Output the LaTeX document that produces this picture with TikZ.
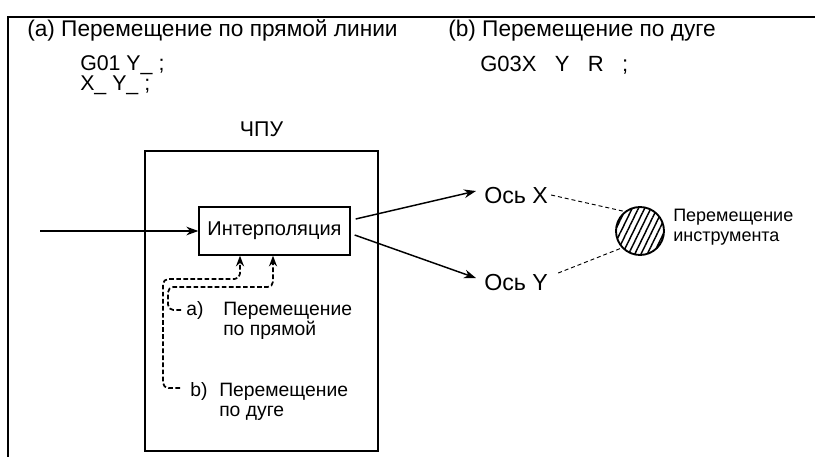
\documentclass[tikz,border=0pt]{standalone}
\usepackage{fontspec}
\setmainfont{Liberation Sans}
\usetikzlibrary{arrows.meta, positioning, patterns.meta}
\tikzset{
  txt/.style   = {inner sep=0pt, anchor=base west, align=left,
                  font=\fontsize{#1}{15}\selectfont},
  txt/.default = 14.5,
  frame/.style = {line width=1.5pt},
  cncbox/.style= {rectangle, draw, line width=0.8pt, inner sep=0pt},
  blk/.style   = {rectangle, draw, line width=1pt, inner sep=0pt,
                  font=\fontsize{15}{18}\selectfont},
  tool/.style  = {circle, draw, line width=1.4pt, inner sep=0pt, minimum size=36pt,
                  pattern={Lines[angle=64, distance=4.2pt, line width=1.1pt]}},
  arr/.style   = {-{Stealth[length=9pt, width=6.5pt]}, line width=1.1pt},
  darr/.style  = {-{Stealth[length=8pt, width=6pt]}, line width=1.3pt,
                  dash pattern=on 3.5pt off 1.8pt, rounded corners=4pt},
  link/.style  = {line width=0.7pt, dash pattern=on 3pt off 2.2pt},
}

\begin{document}
\begin{tikzpicture}[x=0.75pt, y=-0.75pt]
\useasboundingbox (0,0) rectangle (815,457);

% ---- Frame ------------------------------------------------------------------
\draw[frame] (8,457) -- (8,17) -- (815,17);

% ---- Headings and programs --------------------------------------------------
\node[txt=17] (ha)  at (27,36)  {(a) Перемещение по прямой линии};
\node[txt=17] (hb)  at (448,36) {(b) Перемещение по дуге};
\node[txt=16] (g01) at (80,70)  {G01 Y\_ ;};
\node[txt=16] (xy)  at (80,90)  {X\_ Y\_ ;};
\node[txt=16.5] (g03) at (480,71) {G03X\phantom{\_} Y\phantom{\_} R\phantom{\_} ;};

% ---- CNC block --------------------------------------------------------------
\node[cncbox, minimum width=174.75pt, minimum height=225pt] (cnc) at (261.5,301) {};
\node[inner sep=0pt, font=\fontsize{16}{19}\selectfont, above=10pt of cnc] (cncl) {ЧПУ};

\node[blk, minimum width=113.25pt, minimum height=36pt] (interp) at (274.5,231)
  {Интерполяция};

\coordinate (src) at (40,231);
\draw[arr] (src) -- (interp.west);

% ---- Axes and tool ----------------------------------------------------------
\node[txt=17.4] (axX) at (484,203) {Ось X};
\node[txt=17.4] (axY) at (484,290) {Ось Y};

\draw[arr] ([shift={(5,-12)}]interp.east) -- ([shift={(-8,-4)}]axX.west);
\draw[arr] ([shift={(4,4)}]interp.east)   -- ([shift={(-8,-4)}]axY.west);

\node[tool] (tool) at (640,231) {};
\node[txt=13.5] (ptool) at (673,241) {Перемещение\\инструмента};

\draw[link] ([shift={(3,0)}]axX.east)  -- (tool.128);
\draw[link] ([shift={(10,-9)}]axY.east) -- (tool.223);

% ---- Interpolation types ----------------------------------------------------
\node[txt] (la)  at (186,315) {a)};
\node[txt] (lta) at (223,335) {Перемещение\\по прямой};
\node[txt] (lb)  at (190,396) {b)};
\node[txt] (ltb) at (219,416) {Перемещение\\по дуге};

\draw[darr] ([shift={(-5,0)}]la.west) -| (168,287) -| ([shift={(-1.5,0)}]interp.south);
\draw[darr] ([shift={(-10,-3)}]lb.west) -| (163,279) -| ([shift={(-34.5,0)}]interp.south);

\end{tikzpicture}
\end{document}
